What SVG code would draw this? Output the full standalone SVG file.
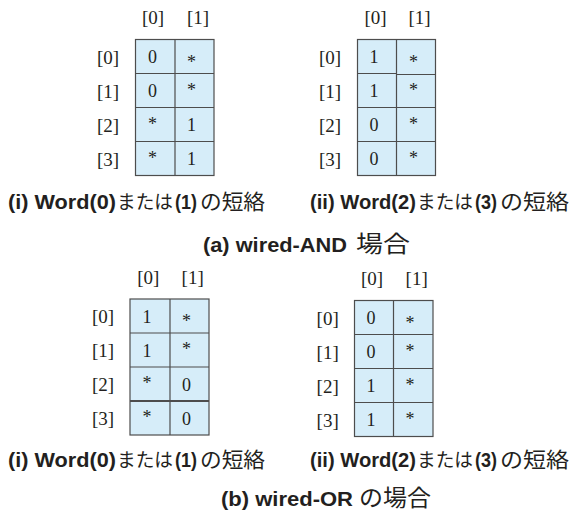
<svg xmlns="http://www.w3.org/2000/svg" width="582" height="523" viewBox="0 0 582 523">
<style>
.bg{fill:#ffffff}
.cell{fill:#d6edf9;stroke:#4d4d4d;stroke-width:1.2}
.ln{stroke:#4d4d4d;stroke-width:1.2;fill:none}
.idx{font-family:"Liberation Serif","Times New Roman",serif;font-size:19px;fill:#231f20;text-anchor:middle}
.val{font-family:"Liberation Serif","Times New Roman",serif;font-size:18px;fill:#231f20;text-anchor:middle}
.lat{font-family:"Liberation Sans",Arial,sans-serif;font-weight:bold;font-size:21px;fill:#231f20}
.par{font-family:"Liberation Sans",Arial,sans-serif;font-weight:bold;font-size:20px;fill:#231f20}
.jp{font-family:"Noto Sans CJK JP",sans-serif;font-size:19px;fill:#231f20}
.jp2{font-family:"Noto Sans CJK JP",sans-serif;font-size:21px;fill:#231f20}
.jpt{font-family:"Noto Sans CJK JP",sans-serif;font-size:23px;fill:#231f20}
</style>
<rect class="bg" x="0" y="0" width="582" height="523"/>

<g id="table-a-i">
  <rect class="cell" x="135.5" y="39.5" width="78.5" height="136"/>
  <path class="ln" d="M175,39.5V175.5M135.5,73.5H214M135.5,107.5H214M135.5,141.5H214"/>
  <text class="idx" x="153" y="23.5">[0]</text>
  <text class="idx" x="198" y="23.5">[1]</text>
  <text class="idx" x="108" y="63.5">[0]</text>
  <text class="idx" x="108" y="97.5">[1]</text>
  <text class="idx" x="108" y="131.5">[2]</text>
  <text class="idx" x="108" y="165.5">[3]</text>
  <text class="val" x="152.5" y="63">0</text>
  <text class="val" x="152.5" y="97">0</text>
  <text class="val" x="152.5" y="129.5">*</text>
  <text class="val" x="152.5" y="163.5">*</text>
  <text class="val" x="191.5" y="67.5">*</text>
  <text class="val" x="191.5" y="95.5">*</text>
  <text class="val" x="191.5" y="131">1</text>
  <text class="val" x="191.5" y="165">1</text>
</g>

<g id="table-a-ii">
  <rect class="cell" x="357.5" y="39.5" width="78" height="136"/>
  <path class="ln" d="M396.5,39.5V175.5M357.5,73.5H396.5M396.5,74.5H435.5M357.5,107.5H435.5M357.5,141.5H435.5"/>
  <text class="idx" x="375.5" y="23.5">[0]</text>
  <text class="idx" x="419.5" y="23.5">[1]</text>
  <text class="idx" x="330" y="63.5">[0]</text>
  <text class="idx" x="330" y="97.5">[1]</text>
  <text class="idx" x="330" y="131.5">[2]</text>
  <text class="idx" x="330" y="165.5">[3]</text>
  <text class="val" x="374" y="63">1</text>
  <text class="val" x="374" y="97">1</text>
  <text class="val" x="374" y="131">0</text>
  <text class="val" x="374" y="165">0</text>
  <text class="val" x="413.5" y="67.5">*</text>
  <text class="val" x="413.5" y="95.5">*</text>
  <text class="val" x="413.5" y="129.5">*</text>
  <text class="val" x="413.5" y="163.5">*</text>
</g>

<g id="caption-a-i">
  <text class="lat" x="8" y="209" textLength="108" lengthAdjust="spacingAndGlyphs">(i) Word(0)</text>
  <text class="jp" x="117" y="209" textLength="56" lengthAdjust="spacingAndGlyphs">または</text>
  <text class="par" x="175" y="209" textLength="22" lengthAdjust="spacingAndGlyphs">(1)</text>
  <text class="jp2" x="200" y="209" textLength="65" lengthAdjust="spacingAndGlyphs">の短絡</text>
</g>
<g id="caption-a-ii">
  <text class="lat" x="310" y="209" textLength="106" lengthAdjust="spacingAndGlyphs">(ii) Word(2)</text>
  <text class="jp" x="417" y="209" textLength="56" lengthAdjust="spacingAndGlyphs">または</text>
  <text class="par" x="475" y="209" textLength="22" lengthAdjust="spacingAndGlyphs">(3)</text>
  <text class="jp2" x="500" y="209" textLength="69" lengthAdjust="spacingAndGlyphs">の短絡</text>
</g>
<g id="title-a">
  <text class="lat" x="203" y="252" textLength="144" lengthAdjust="spacingAndGlyphs">(a) wired-AND</text>
  <text class="jpt" x="356" y="252" textLength="54" lengthAdjust="spacingAndGlyphs">場合</text>
</g>

<g id="table-b-i">
  <rect class="cell" x="130" y="299" width="79" height="136"/>
  <path class="ln" d="M170,299V435M130,333H209M130,367H209"/>
  <path class="ln" style="stroke-width:2" d="M130,401H209"/>
  <text class="idx" x="148.3" y="283.5">[0]</text>
  <text class="idx" x="192.7" y="283.5">[1]</text>
  <text class="idx" x="103" y="323">[0]</text>
  <text class="idx" x="103" y="357">[1]</text>
  <text class="idx" x="103" y="391">[2]</text>
  <text class="idx" x="103" y="425">[3]</text>
  <text class="val" x="147" y="322.5">1</text>
  <text class="val" x="147" y="356.5">1</text>
  <text class="val" x="147" y="389">*</text>
  <text class="val" x="147" y="423">*</text>
  <text class="val" x="186.5" y="327">*</text>
  <text class="val" x="186.5" y="355">*</text>
  <text class="val" x="186.5" y="390.5">0</text>
  <text class="val" x="186.5" y="424.5">0</text>
</g>

<g id="table-b-ii">
  <rect class="cell" x="354.5" y="300.5" width="78.5" height="136"/>
  <path class="ln" d="M393.5,300.5V436.5M354.5,334.5H433M354.5,368.5H433M354.5,402.5H433"/>
  <text class="idx" x="372" y="284.5">[0]</text>
  <text class="idx" x="416.7" y="284.5">[1]</text>
  <text class="idx" x="327.7" y="324.5">[0]</text>
  <text class="idx" x="327.7" y="358.5">[1]</text>
  <text class="idx" x="327.7" y="392.5">[2]</text>
  <text class="idx" x="327.7" y="426.5">[3]</text>
  <text class="val" x="371" y="324">0</text>
  <text class="val" x="371" y="358">0</text>
  <text class="val" x="371" y="392">1</text>
  <text class="val" x="371" y="426">1</text>
  <text class="val" x="410" y="328.5">*</text>
  <text class="val" x="410" y="356.5">*</text>
  <text class="val" x="410" y="390.5">*</text>
  <text class="val" x="410" y="424.5">*</text>
</g>

<g id="caption-b-i">
  <text class="lat" x="8" y="467" textLength="108" lengthAdjust="spacingAndGlyphs">(i) Word(0)</text>
  <text class="jp" x="117" y="467" textLength="56" lengthAdjust="spacingAndGlyphs">または</text>
  <text class="par" x="175" y="467" textLength="22" lengthAdjust="spacingAndGlyphs">(1)</text>
  <text class="jp2" x="200" y="467" textLength="65" lengthAdjust="spacingAndGlyphs">の短絡</text>
</g>
<g id="caption-b-ii">
  <text class="lat" x="310" y="467" textLength="106" lengthAdjust="spacingAndGlyphs">(ii) Word(2)</text>
  <text class="jp" x="417" y="467" textLength="56" lengthAdjust="spacingAndGlyphs">または</text>
  <text class="par" x="475" y="467" textLength="22" lengthAdjust="spacingAndGlyphs">(3)</text>
  <text class="jp2" x="500" y="467" textLength="69" lengthAdjust="spacingAndGlyphs">の短絡</text>
</g>
<g id="title-b">
  <text class="lat" x="221" y="506" textLength="132" lengthAdjust="spacingAndGlyphs">(b) wired-OR</text>
  <text class="jpt" x="359" y="506" textLength="72" lengthAdjust="spacingAndGlyphs">の場合</text>
</g>
<g id="connectors"/>
</svg>
